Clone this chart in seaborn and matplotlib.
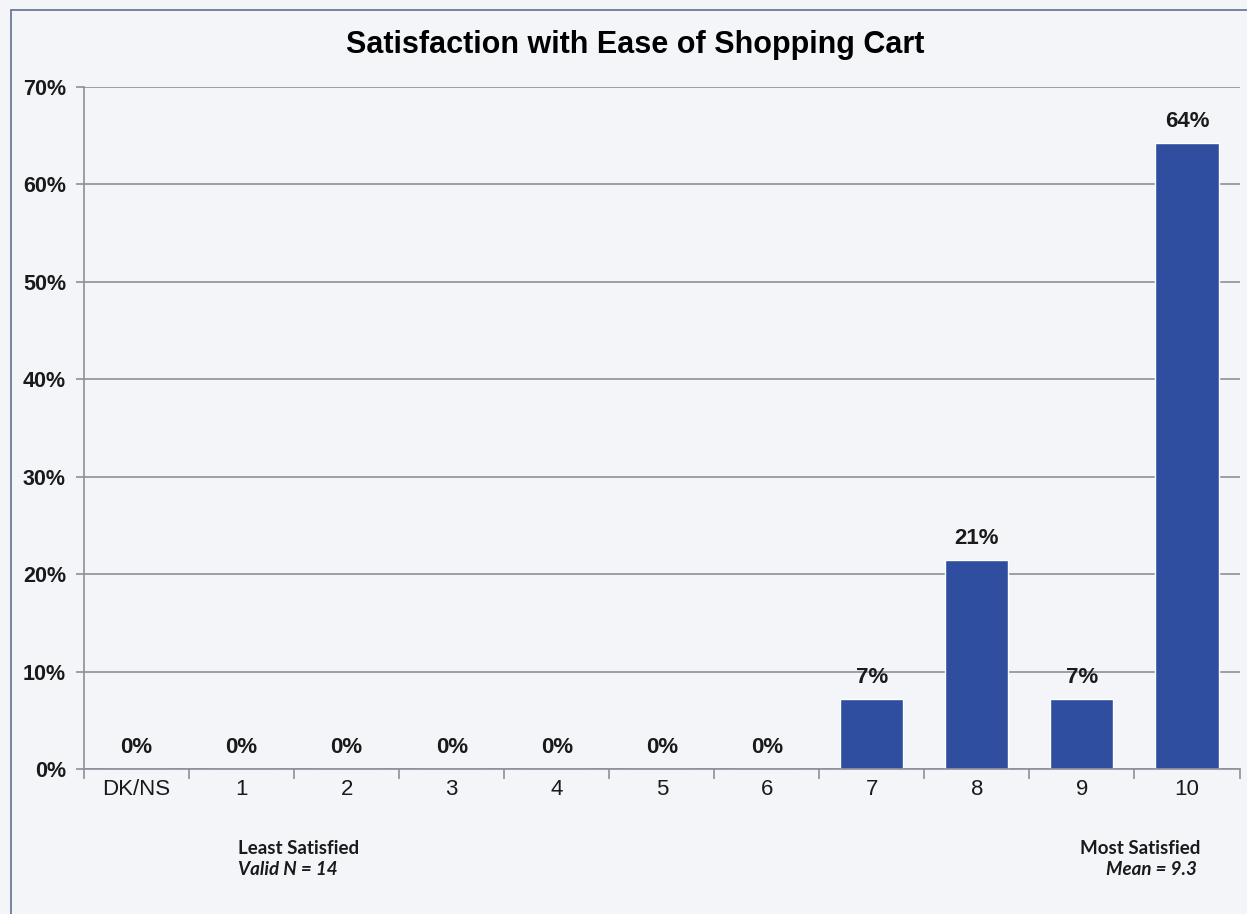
import matplotlib
matplotlib.use("Agg")
import matplotlib.pyplot as plt
from matplotlib.lines import Line2D
from matplotlib.ticker import FixedLocator, FuncFormatter
import seaborn as sns
import pandas as pd

# Survey results: share of respondents per satisfaction score (N = 14)
categories = ["DK/NS", "1", "2", "3", "4", "5", "6", "7", "8", "9", "10"]
percent = [0, 0, 0, 0, 0, 0, 0, 7.14, 21.43, 7.14, 64.29]
y_ticks = [0, 10, 20, 30, 40, 50, 60, 70]

title = "Satisfaction with Ease of Shopping Cart"
left_note = ("Least Satisfied", "Valid N = 14")
right_note = ("Most Satisfied", "Mean = 9.3")

bar_color = "#2F4EA0"
bg_color = "#F3F5F9"
grid_color = "#8C909A"
text_color = "#1A1A1A"

sns.set_theme(style="white")
plt.rcParams["font.family"] = ["Liberation Sans", "DejaVu Sans"]

df = pd.DataFrame({"score": categories, "pct": percent})

fig = plt.figure(figsize=(12.47, 9.14), dpi=100, facecolor=bg_color)
ax = fig.add_axes([0.0674, 0.1586, 0.9266, 0.7462])
ax.set_facecolor(bg_color)

sns.barplot(data=df, x="score", y="pct", color=bar_color, width=0.6,
            saturation=1, ax=ax, zorder=3)

ax.set_xlim(-0.5, len(categories) - 0.5)
ax.set_ylim(0, 70)

# Horizontal gridlines and percent tick labels
ax.yaxis.set_major_locator(FixedLocator(y_ticks))
ax.yaxis.set_major_formatter(FuncFormatter(lambda v, _: f"{v:.0f}%"))
ax.grid(axis="y", color=grid_color, linewidth=1.2, zorder=0)
ax.grid(axis="x", visible=False)
ax.tick_params(axis="y", which="major", direction="out", length=6, width=1.2,
               color=grid_color, labelsize=15.5, pad=7, labelcolor=text_color,
               left=True)
for lbl in ax.get_yticklabels():
    lbl.set_fontweight("bold")

# Category labels centred, tick marks between categories
ax.tick_params(axis="x", which="major", length=0, labelsize=16, pad=7,
               labelcolor=text_color)
ax.set_xticks([i + 0.5 for i in range(-1, len(categories))], minor=True)
ax.tick_params(axis="x", which="minor", direction="out", length=7, width=1.2,
               color=grid_color, bottom=True)

for side in ("top", "right"):
    ax.spines[side].set_visible(False)
for side in ("left", "bottom"):
    ax.spines[side].set_color(grid_color)
    ax.spines[side].set_linewidth(1.2)
    ax.spines[side].set_zorder(4)

ax.set_xlabel("")
ax.set_ylabel("")

# Value labels above each bar
for container in ax.containers:
    ax.bar_label(container, labels=[f"{v:.0f}%" for v in container.datavalues],
                 padding=8, fontsize=16, fontweight="bold", color=text_color)

fig.text(0.509, 0.951, title, ha="center", va="center", fontsize=22,
         fontweight="bold", color="black",
         family=["Liberation Sans Narrow", "Liberation Sans", "DejaVu Sans"])

note_font = ["Lato", "Open Sans", "DejaVu Sans"]
fig.text(0.1909, 0.072, left_note[0], ha="left", va="center", fontsize=13.5,
         fontweight="bold", color=text_color, family=note_font)
fig.text(0.1909, 0.049, left_note[1], ha="left", va="center", fontsize=13.5,
         fontweight="bold", fontstyle="italic", color=text_color, family=note_font)
fig.text(0.9625, 0.072, right_note[0], ha="right", va="center", fontsize=13.5,
         fontweight="bold", color=text_color, family=note_font)
fig.text(0.9600, 0.049, right_note[1], ha="right", va="center", fontsize=13.5,
         fontweight="bold", fontstyle="italic", color=text_color, family=note_font)

# Outer chart frame
frame_color = "#6E7A96"
fig.add_artist(Line2D([0.0088, 0.0088], [0.0, 0.989], transform=fig.transFigure,
                      color=frame_color, linewidth=1.3))
fig.add_artist(Line2D([0.0088, 1.0], [0.989, 0.989], transform=fig.transFigure,
                      color=frame_color, linewidth=1.3))

fig.savefig("out.png", dpi=100, facecolor=bg_color)
